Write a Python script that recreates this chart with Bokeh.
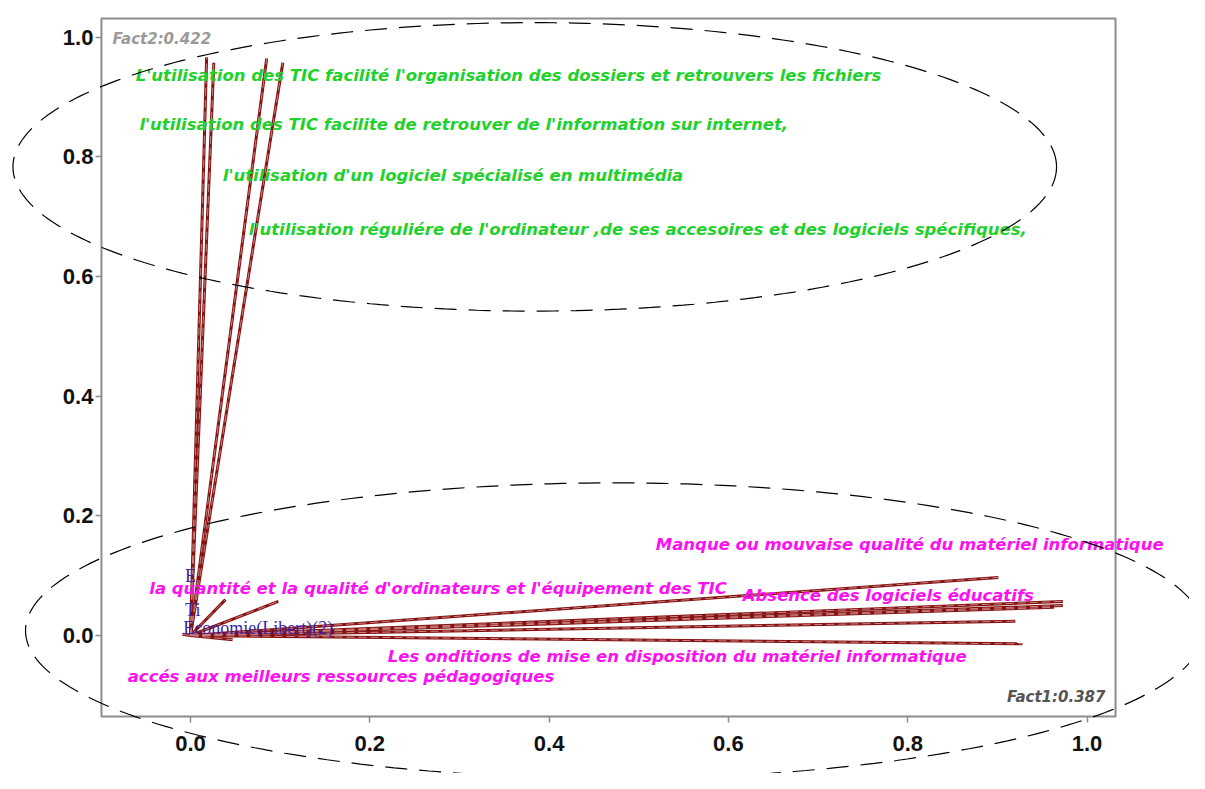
import numpy as np
from bokeh.plotting import figure
from bokeh.models import (ColumnDataSource, Range1d, FixedTicker, Label, NumeralTickFormatter)
from bokeh.embed import file_html
from bokeh.resources import INLINE
from bokeh.core.properties import value

# ---- data: variable coordinates on the two factors ----
fact1 = [0.018, 0.026, 0.085, 0.103, 0.901, 0.973, 0.973, 0.963, 0.920, 0.928,
         0.039, 0.098, 0.047, -0.009]
fact2 = [0.966, 0.957, 0.964, 0.957, 0.097, 0.057, 0.050, 0.047, 0.024, -0.014,
         0.060, 0.057, -0.007, 0.002]

green_labels = [
    "L'utilisation des TIC facilité l'organisation des dossiers et retrouvers les fichiers",
    "l'utilisation des TIC facilite de retrouver de l'information sur internet,",
    "l'utilisation d'un logiciel spécialisé en multimédia",
    "l'utilisation réguliére de l'ordinateur ,de ses accesoires et des logiciels spécifiques,",
]
green_x = [-0.061, -0.057, 0.036, 0.065]
green_y = [0.936, 0.854, 0.769, 0.678]

magenta_labels = [
    "Manque ou mouvaise qualité du matériel informatique",
    "la quantité et la qualité d'ordinateurs et l'équipement des TIC",
    "Absence des logiciels éducatifs",
    "Les onditions de mise en disposition du matériel informatique",
    "accés aux meilleurs ressources pédagogiques",
]
magenta_x = [0.519, -0.046, 0.616, 0.220, -0.070]
magenta_y = [0.152, 0.079, 0.067, -0.035, -0.069]

navy_labels = ["Economie(Libert)(2)", "E", "Ti"]
navy_x = [-0.008, -0.006, -0.006]
navy_y = [0.013, 0.099, 0.042]

x_ticks = [0.0, 0.2, 0.4, 0.6, 0.8, 1.0]
y_ticks = [0.0, 0.2, 0.4, 0.6, 0.8, 1.0]

# axes box (data extent of the plotting area)
box_x = (-0.0993, 1.0318)
box_y = (-0.1353, 1.031)

# ---- figure: frame spans the whole canvas so the dashed ellipses can overflow the box ----
p = figure(width=1189, height=773, output_backend="svg", toolbar_location=None,
           x_range=Range1d(-0.2119, 1.1143), y_range=Range1d(-0.2306, 1.061),
           min_border=0)
p.background_fill_color = "white"
p.border_fill_color = "white"
p.outline_line_color = None
p.grid.visible = False

p.xaxis[0].fixed_location = box_y[0]
p.yaxis[0].fixed_location = box_x[0]
for ax, ticks in ((p.xaxis[0], x_ticks), (p.yaxis[0], y_ticks)):
    ax.ticker = FixedTicker(ticks=ticks)
    ax.formatter = NumeralTickFormatter(format="0.0")
    ax.axis_line_color = None
    ax.major_tick_line_color = "#8c8c8c"
    ax.major_tick_line_width = 1.5
    ax.major_tick_in = 0
    ax.major_tick_out = 6
    ax.minor_tick_line_color = None
    ax.major_label_text_font = "Liberation Sans"
    ax.major_label_text_font_style = "bold"
    ax.major_label_text_font_size = "22px"
    ax.major_label_text_color = "#111111"
p.xaxis[0].major_label_standoff = 14
p.yaxis[0].major_label_standoff = 2

# plotting-area box
p.quad(left=[box_x[0]], right=[box_x[1]], bottom=[box_y[0]], top=[box_y[1]],
       fill_color=None, line_color="#8c8c8c", line_width=2)

src = ColumnDataSource(dict(x0=[0.0] * len(fact1), y0=[0.0] * len(fact1), x1=fact1, y1=fact2))
p.segment("x0", "y0", "x1", "y1", source=src, line_color="#861212", line_width=3)
p.segment("x0", "y0", "x1", "y1", source=src, line_color="#c98282", line_width=1,
          line_dash="8 4")

# ---- labels ----
gsrc = ColumnDataSource(dict(x=green_x, y=green_y, t=green_labels))
p.text("x", "y", "t", source=gsrc, text_color="#1fd12c", text_font=value("DejaVu Sans"),
       text_font_style="bold italic", text_font_size="16.5px", text_baseline="middle")
msrc = ColumnDataSource(dict(x=magenta_x, y=magenta_y, t=magenta_labels))
p.text("x", "y", "t", source=msrc, text_color="#ff10f0", text_font=value("DejaVu Sans"),
       text_font_style="bold italic", text_font_size="16.5px", text_baseline="middle")
nsrc = ColumnDataSource(dict(x=navy_x, y=navy_y, t=navy_labels))
p.text("x", "y", "t", source=nsrc, text_color="#3b1fa6", text_font=value("Liberation Serif"),
       text_font_size="18px", text_baseline="middle")

p.add_layout(Label(x=-0.087, y=0.9975, text="Fact2:0.422", text_color="#9a9a9a",
                   text_font="DejaVu Sans", text_font_style="bold italic",
                   text_font_size="15px", text_baseline="middle"))
p.add_layout(Label(x=1.0206, y=-0.102, text="Fact1:0.387", text_color="#555555",
                   text_font="DejaVu Sans", text_font_style="bold italic",
                   text_font_size="15px", text_baseline="middle", text_align="right"))

# ---- dashed grouping ellipses ----
t = np.linspace(0, 2 * np.pi, 300)
for cx, cy, rx, ry in ((0.384, 0.783, 0.582, 0.241), (0.473, 0.008, 0.657, 0.247)):
    p.line(cx + rx * np.cos(t), cy + ry * np.sin(t), line_color="black",
           line_width=1.2, line_dash="22 12")

open("out.html", "w").write(file_html(p, INLINE))
